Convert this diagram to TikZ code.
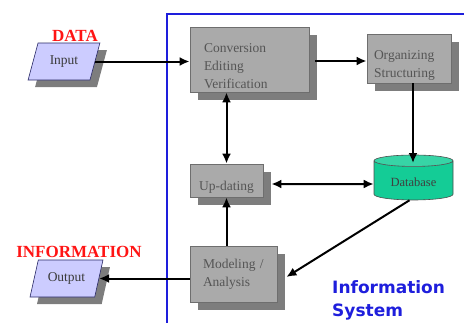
\documentclass[tikz,border=0pt]{standalone}
\usepackage{fontspec}
\setmainfont{Liberation Serif}
\newfontfamily\verd{DejaVu Sans}
\usetikzlibrary{shapes.geometric,shadows,arrows.meta}
\definecolor{boxgray}{RGB}{170,170,170}
\definecolor{shadgray}{RGB}{125,125,125}
\definecolor{edgegray}{RGB}{110,110,110}
\definecolor{txtgray}{RGB}{85,85,85}
\definecolor{lav}{RGB}{204,204,255}
\definecolor{teal}{RGB}{20,204,150}
\definecolor{frameblue}{RGB}{30,30,220}
\definecolor{lblred}{RGB}{255,20,20}
\newcommand{\topstrut}{\rule{0pt}{22pt}}
\tikzset{
  procbox/.style={draw=edgegray, line width=0.8pt, fill=boxgray, text=txtgray,
    font=\fontsize{13.5}{18}\selectfont, align=left, inner sep=0pt,
    general shadow={fill=shadgray, shadow xshift=8pt, shadow yshift=-8pt}},
  iobox/.style={shape=trapezium, trapezium stretches=true,
    trapezium left angle=65, trapezium right angle=115,
    draw=edgegray!60!blue!60!black, line width=0.6pt, fill=lav, text=txtgray!70!black,
    font=\fontsize{13.5}{16}\selectfont, inner sep=0pt,
    general shadow={fill=shadgray, shadow xshift=7pt, shadow yshift=-7pt}},
  lbl/.style={text=lblred, font=\fontsize{17}{20}\selectfont\bfseries, inner sep=0pt},
  arr/.style={line width=2pt, -{Latex[length=10pt,width=9pt]}},
  darr/.style={line width=2pt, {Latex[length=10pt,width=9pt]}-{Latex[length=10pt,width=9pt]}}
}
\begin{document}
\begin{tikzpicture}[x=1pt,y=-1pt]
\useasboundingbox (0,0) rectangle (464,322);
\begin{scope}
\clip (0,0) rectangle (464,322);
\draw[frameblue, line width=2.4pt] (167,14) rectangle (490,350);
\end{scope}
% I/O
\node[iobox, minimum width=72pt, minimum height=37pt] (input) at (64,61.5) {Input};
\node[lbl] (data) at (75,36) {DATA};
\node[iobox, minimum width=73pt, minimum height=37pt] (output) at (66.5,278.5) {Output};
\node[lbl] (info) at (79,252) {INFORMATION};
% process boxes
\node[procbox, minimum width=119pt, minimum height=65pt, text width=91pt] (conv) at (249.5,59.5) {\topstrut Conversion\\Editing\\Verification};
\node[procbox, minimum width=84pt, minimum height=49pt, text width=70pt, shadow xshift=7pt, shadow yshift=-7pt] (org) at (409,58.5) {\topstrut Organizing\\Structuring};
\node[procbox, minimum width=73pt, minimum height=33pt, align=center] (upd) at (226.5,180.5) {\topstrut Up-dating};
\node[procbox, minimum width=87pt, minimum height=56pt, text width=61pt] (model) at (233.5,274) {Modeling /\\Analysis};
\node[shape=cylinder, shape border rotate=90, aspect=0.25, draw=black!70, line width=0.6pt,
  cylinder uses custom fill, cylinder body fill=teal, cylinder end fill=teal!85!white,
  minimum width=79pt, minimum height=45pt, inner sep=0pt, text=black!75,
  font=\fontsize{12.5}{14}\selectfont] (db) at (413.5,180.5) {\rule{0pt}{13pt}Database};
% caption
\node[anchor=north west, text=frameblue, font=\verd\bfseries\fontsize{17}{23}\selectfont, align=left, inner sep=0pt] (sys) at (332,280) {Information\\System};
% connectors
\draw[arr] (input.east) -- (conv.west |- input.east);
\draw[arr] ([xshift=6pt,yshift=-1.5pt]conv.east) -- ([yshift=-2.5pt]org.west);
\draw[arr] ([xshift=4pt]org.south) -- ([xshift=4pt,yshift=17.5pt]org.south |- db.center);
\draw[darr] (upd.north |- conv.south) -- (upd.north);
\draw[arr] (upd.south |- model.north) -- (upd.south);
\draw[darr] ([xshift=8pt,yshift=-3.5pt]upd.east) -- ([yshift=-3.5pt]db.west);
\draw[arr] ([xshift=-4pt]db.south) -- ([xshift=9pt,yshift=-3pt]model.east);
\draw[arr] (model.west |- output.east) -- (output.east);
\end{tikzpicture}
\end{document}
